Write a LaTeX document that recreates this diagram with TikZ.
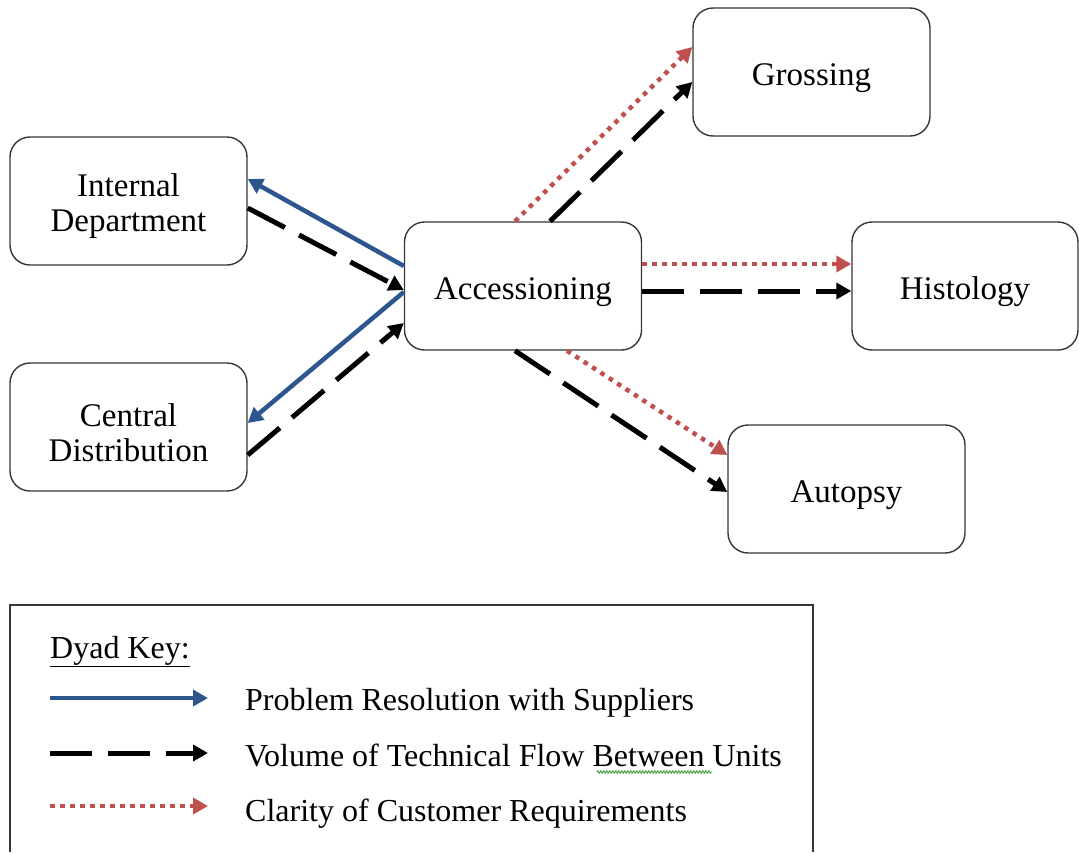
\documentclass[tikz,border=0pt]{standalone}
\usepackage{fontspec}
\setmainfont{Liberation Serif}
\usetikzlibrary{arrows.meta,decorations.pathmorphing}
\definecolor{supblue}{RGB}{46,86,142}
\definecolor{custred}{RGB}{192,80,77}
\definecolor{boxline}{RGB}{55,55,55}
\definecolor{spellgreen}{RGB}{60,160,60}
% strut that lowers the first line of a unit label
\newcommand{\upstrut}{\rule{0pt}{34pt}}
\tikzset{
  unit/.style={draw=boxline, line width=1.4pt, rounded corners=20pt, fill=white,
    minimum width=237pt, minimum height=128pt, align=center,
    font=\fontsize{33}{35}\selectfont, inner sep=0pt},
  tipstyle/.style={-{Triangle[length=15pt,width=16pt]}},
  solver/.style={tipstyle, draw=supblue, line width=4.5pt},
  flow/.style={tipstyle, draw=black, line width=5pt, dash pattern=on 42pt off 16pt},
  clarity/.style={tipstyle, draw=custred, line width=4.5pt, dash pattern=on 4.5pt off 5.5pt},
  keytext/.style={anchor=base west, font=\fontsize{32}{35}\selectfont, inner sep=0pt}
}
\begin{document}
\begin{tikzpicture}[x=1pt, y=-1pt]
\useasboundingbox (0,0) rectangle (1079,852);

% units
\node[unit] (intd)  at (128.5,201) {\upstrut Internal\\Department};
\node[unit] (cd)    at (128.5,427) {\upstrut Central\\Distribution};
\node[unit] (acc)   at (523,286)   {\upstrut Accessioning};
\node[unit] (gross) at (811.5,72)  {\upstrut Grossing};
\node[unit, minimum width=226pt] (hist) at (965,286) {\upstrut Histology};
\node[unit] (aut)   at (846.5,489) {\upstrut Autopsy};

% suppliers side
\draw[solver] ([yshift=20pt]acc.west) -- ([yshift=22pt]intd.east);
\draw[flow]   ([yshift=-7pt]intd.east) -- ([yshift=-4pt]acc.west);
\draw[solver] ([yshift=-6pt]acc.west) -- ([yshift=4pt]cd.east);
\draw[flow]   ([yshift=-28pt]cd.east) -- ([yshift=-37pt]acc.west);

% downstream units
\draw[clarity] ([xshift=-8pt]acc.north) -- ([yshift=25pt]gross.west);
\draw[flow]    ([xshift=27pt]acc.north) -- ([yshift=-10pt]gross.west);
\draw[clarity] ([yshift=22pt]acc.east) -- ([yshift=22pt]hist.west);
\draw[flow]    ([yshift=-5pt]acc.east) -- ([yshift=-5pt]hist.west);
\draw[clarity] ([xshift=44pt]acc.south) -- ([yshift=34pt]aut.west);
\draw[flow]    ([xshift=-8pt]acc.south) -- ([yshift=-3pt]aut.west);

% key frame (open at the bottom edge)
\draw[boxline, line width=1.4pt] (10,852) -- (10,605) -- (813,605) -- (813,852);

\node[keytext] (keyhead) at (50,658) {\underline{Dyad Key:}};

\coordinate (k1a) at (50,698);  \coordinate (k1b) at (208,698);
\coordinate (k2a) at (50,753);  \coordinate (k2b) at (208,753);
\coordinate (k3a) at (50,806);  \coordinate (k3b) at (208,806);
\draw[solver]  (k1a) -- (k1b);
\draw[flow]    (k2a) -- (k2b);
\draw[clarity] (k3a) -- (k3b);

\node[keytext] (l1) at (245,710) {Problem Resolution with Suppliers};
\node[keytext] (l2) at (245,766) {Volume of Technical Flow Between Units};
\node[keytext] (l3) at (245,821) {Clarity of Customer Requirements};

% spelling squiggle under "Between"
\coordinate (sq1) at (597,772);
\coordinate (sq2) at (712,772);
\draw[spellgreen, line width=0.9pt, decorate,
      decoration={zigzag, amplitude=1.2pt, segment length=3pt}] (sq1) -- (sq2);
\end{tikzpicture}
\end{document}
